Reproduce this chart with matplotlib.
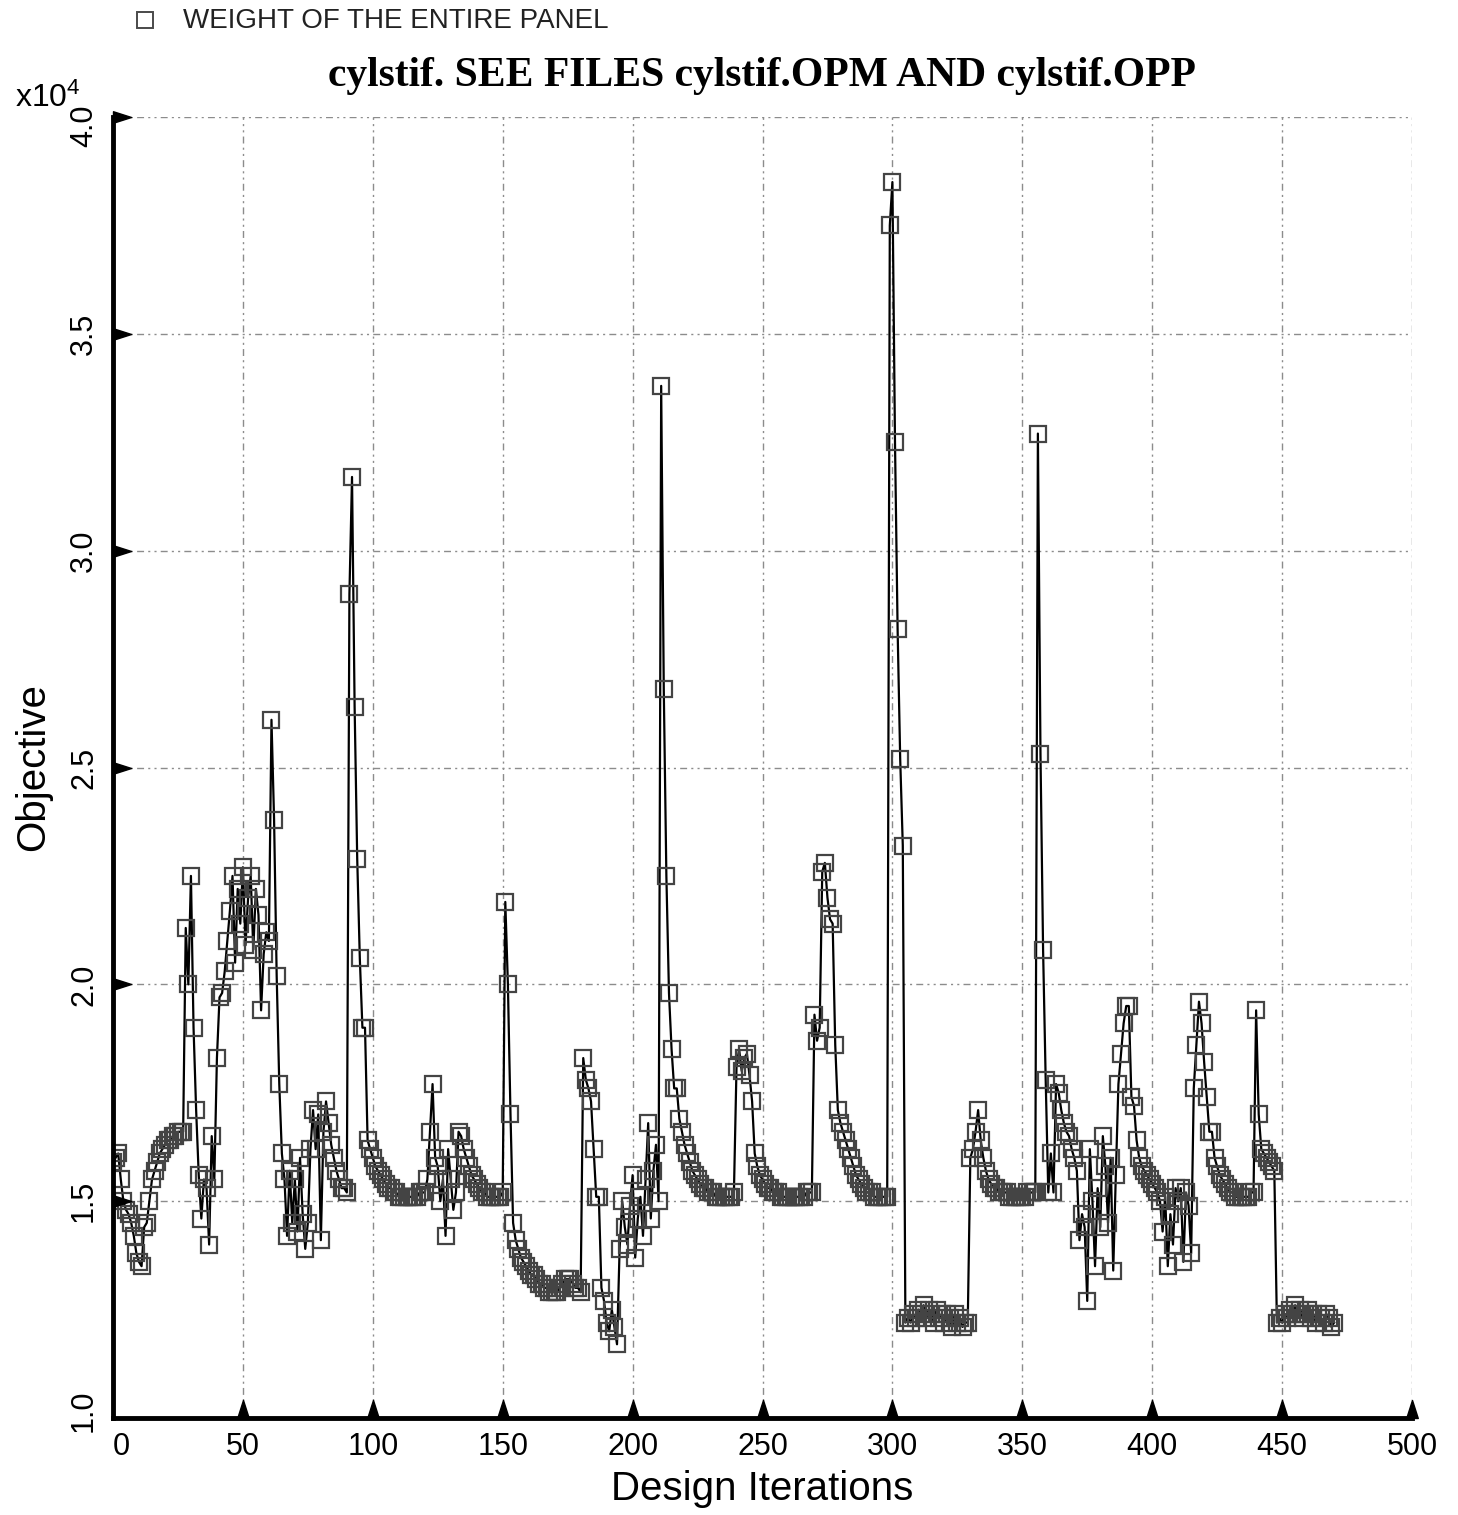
import numpy as np
import matplotlib
matplotlib.use("Agg")
import matplotlib.pyplot as plt
from matplotlib.lines import Line2D
from matplotlib.path import Path
from matplotlib.transforms import ScaledTranslation

plt.rcParams['font.family'] = ['Liberation Sans', 'DejaVu Sans']
plt.rcParams['mathtext.fontset'] = 'custom'
plt.rcParams['mathtext.rm'] = 'Liberation Sans'
plt.rcParams['mathtext.default'] = 'rm'

# objective (x10^4), one value per design iteration
weight_000_099 = [
    1.59, 1.60, 1.61, 1.55, 1.50, 1.48, 1.47, 1.45, 1.42, 1.38,
    1.36, 1.35, 1.44, 1.45, 1.50, 1.55, 1.57, 1.59, 1.61, 1.62,
    1.63, 1.64, 1.64, 1.65, 1.65, 1.66, 1.66, 1.66, 2.13, 2.00,
    2.25, 1.90, 1.71, 1.56, 1.46, 1.55, 1.53, 1.40, 1.65, 1.55,
    1.83, 1.97, 1.98, 2.03, 2.10, 2.17, 2.25, 2.05, 2.22, 2.14,
    2.27, 2.09, 2.20, 2.25, 2.08, 2.22, 2.16, 1.94, 2.07, 2.12,
    2.10, 2.61, 2.38, 2.02, 1.77, 1.61, 1.55, 1.42, 1.57, 1.45,
    1.55, 1.43, 1.60, 1.47, 1.39, 1.45, 1.62, 1.71, 1.62, 1.70,
    1.41, 1.66, 1.73, 1.68, 1.63, 1.60, 1.57, 1.55, 1.53, 1.53,
    1.52, 2.90, 3.17, 2.64, 2.29, 2.06, 1.90, 1.90, 1.64, 1.62,
]
weight_100_199 = [
    1.60, 1.58, 1.57, 1.56, 1.55, 1.54, 1.53, 1.53, 1.52, 1.52,
    1.51, 1.51, 1.51, 1.51, 1.51, 1.51, 1.51, 1.51, 1.52, 1.52,
    1.52, 1.55, 1.66, 1.77, 1.60, 1.58, 1.50, 1.55, 1.42, 1.62,
    1.55, 1.48, 1.52, 1.66, 1.65, 1.62, 1.60, 1.58, 1.56, 1.55,
    1.54, 1.53, 1.52, 1.52, 1.51, 1.51, 1.51, 1.51, 1.51, 1.51,
    1.52, 2.19, 2.00, 1.70, 1.45, 1.41, 1.39, 1.37, 1.36, 1.35,
    1.34, 1.33, 1.33, 1.32, 1.31, 1.31, 1.30, 1.30, 1.29, 1.29,
    1.29, 1.29, 1.30, 1.31, 1.32, 1.32, 1.32, 1.31, 1.30, 1.30,
    1.29, 1.83, 1.78, 1.76, 1.73, 1.62, 1.51, 1.51, 1.30, 1.27,
    1.22, 1.20, 1.25, 1.21, 1.17, 1.39, 1.50, 1.44, 1.40, 1.49,
]
weight_200_299 = [
    1.56, 1.37, 1.46, 1.51, 1.42, 1.55, 1.68, 1.46, 1.57, 1.63,
    1.50, 3.38, 2.68, 2.25, 1.98, 1.85, 1.76, 1.76, 1.69, 1.66,
    1.63, 1.61, 1.59, 1.57, 1.56, 1.55, 1.54, 1.53, 1.53, 1.52,
    1.52, 1.52, 1.51, 1.51, 1.51, 1.51, 1.51, 1.51, 1.51, 1.52,
    1.81, 1.85, 1.80, 1.83, 1.84, 1.79, 1.73, 1.61, 1.58, 1.56,
    1.55, 1.54, 1.53, 1.53, 1.52, 1.52, 1.52, 1.51, 1.51, 1.51,
    1.51, 1.51, 1.51, 1.51, 1.51, 1.51, 1.51, 1.52, 1.52, 1.52,
    1.93, 1.87, 1.90, 2.26, 2.28, 2.20, 2.15, 2.14, 1.86, 1.71,
    1.68, 1.66, 1.64, 1.62, 1.60, 1.58, 1.56, 1.55, 1.54, 1.53,
    1.52, 1.52, 1.52, 1.51, 1.51, 1.51, 1.51, 1.51, 1.51, 3.75,
]
weight_300_399 = [
    3.85, 3.25, 2.82, 2.52, 2.32, 1.22, 1.23, 1.22, 1.24, 1.23,
    1.25, 1.24, 1.26, 1.23, 1.25, 1.24, 1.22, 1.25, 1.23, 1.24,
    1.22, 1.24, 1.23, 1.21, 1.24, 1.22, 1.23, 1.21, 1.22, 1.22,
    1.60, 1.62, 1.66, 1.71, 1.64, 1.60, 1.57, 1.55, 1.54, 1.53,
    1.53, 1.52, 1.52, 1.52, 1.52, 1.51, 1.51, 1.51, 1.51, 1.51,
    1.51, 1.51, 1.52, 1.52, 1.52, 1.52, 3.27, 2.53, 2.08, 1.78,
    1.52, 1.61, 1.52, 1.77, 1.75, 1.71, 1.68, 1.66, 1.65, 1.62,
    1.60, 1.57, 1.41, 1.47, 1.44, 1.27, 1.62, 1.50, 1.35, 1.53,
    1.44, 1.65, 1.58, 1.45, 1.60, 1.34, 1.56, 1.77, 1.84, 1.91,
    1.95, 1.95, 1.74, 1.72, 1.64, 1.60, 1.58, 1.57, 1.56, 1.55,
]
weight_400_470 = [
    1.54, 1.53, 1.52, 1.50, 1.43, 1.51, 1.35, 1.47, 1.40, 1.53,
    1.50, 1.53, 1.36, 1.52, 1.49, 1.38, 1.76, 1.86, 1.96, 1.91,
    1.82, 1.74, 1.66, 1.66, 1.60, 1.58, 1.56, 1.55, 1.54, 1.53,
    1.52, 1.52, 1.51, 1.51, 1.51, 1.51, 1.51, 1.51, 1.52, 1.52,
    1.94, 1.70, 1.62, 1.61, 1.60, 1.59, 1.58, 1.57, 1.22, 1.23,
    1.22, 1.24, 1.23, 1.25, 1.24, 1.26, 1.24, 1.25, 1.23, 1.24,
    1.25, 1.23, 1.24, 1.22, 1.24, 1.23, 1.22, 1.24, 1.23, 1.21, 1.22,
]

x_ticks = [0, 50, 100, 150, 200, 250, 300, 350, 400, 450, 500]
y_ticks = [1.0, 1.5, 2.0, 2.5, 3.0, 3.5, 4.0]

weight = np.array(weight_000_099 + weight_100_199 + weight_200_299
                  + weight_300_399 + weight_400_470)
iterations = np.arange(len(weight))

fig = plt.figure(figsize=(14.58, 15.15), dpi=100)
ax = fig.add_axes([113 / 1458, 1 - 1418 / 1515, 1299 / 1458, 1301 / 1515])

ax.plot(iterations, weight, color='black', lw=1.6, marker='s', ms=11,
        mfc='none', mec='#444444', mew=1.6, zorder=3)

ax.set_xlim(0, 500)
ax.set_ylim(1.0, 4.0)
ax.set_xticks(x_ticks)
ax.set_yticks(y_ticks)
ax.set_xticklabels([str(t) for t in x_ticks], fontsize=22)
ax.set_yticklabels(['%.1f' % t for t in y_ticks], fontsize=22,
                   rotation=90, va='center')
ax.get_xticklabels()[0].set_horizontalalignment('left')
ax.tick_params(length=0, pad=10)

# end labels on the y axis are nudged inward, as in the original
ylabels = ax.get_yticklabels()
ylabels[0].set_transform(ylabels[0].get_transform()
                         + ScaledTranslation(0, 0.07, fig.dpi_scale_trans))
ylabels[-1].set_transform(ylabels[-1].get_transform()
                          + ScaledTranslation(0, -0.09, fig.dpi_scale_trans))

ax.grid(True, color='#8c8c8c', lw=1.0, ls=(0, (5, 3, 1.5, 3, 1.5, 3)))
for side in ['top', 'right']:
    ax.spines[side].set_visible(False)
for side in ['left', 'bottom']:
    ax.spines[side].set_linewidth(3.5)
    ax.spines[side].set_zorder(4)

# triangle tick marks sitting on the axes
tri_up = Path([(-0.32, 0), (0.32, 0), (0, 1), (-0.32, 0)])
tri_right = Path([(0, -0.32), (0, 0.32), (1, 0), (0, -0.32)])
ax.plot(x_ticks[1:], [1.0] * len(x_ticks[1:]), ls='none', marker=tri_up,
        ms=26, color='black', clip_on=False, zorder=5)
ax.plot([0] * len(y_ticks[1:]), y_ticks[1:], ls='none', marker=tri_right,
        ms=26, color='black', clip_on=False, zorder=5)

ax.set_xlabel('Design Iterations', fontsize=29, labelpad=6)
ax.set_ylabel('Objective', fontsize=29, labelpad=12)
fig.text(15 / 1458, 1 - 107 / 1515, r'x10$^4$', fontsize=23,
         va='baseline', ha='left')

fig.text(762 / 1458, 1 - 76 / 1515, 'cylstif. SEE FILES cylstif.OPM AND cylstif.OPP',
         family='Liberation Serif', weight='bold', fontsize=30,
         ha='center', va='center')

fig.add_artist(Line2D([145 / 1458], [1 - 20 / 1515], ls='none', marker='s',
                      ms=11, mfc='none', mec='#4a4a4a', mew=1.4))
fig.text(183 / 1458, 1 - 21 / 1515, 'WEIGHT OF THE ENTIRE PANEL',
         fontsize=20, color='#222222', ha='left', va='center')

fig.savefig('out.png', dpi=100)
